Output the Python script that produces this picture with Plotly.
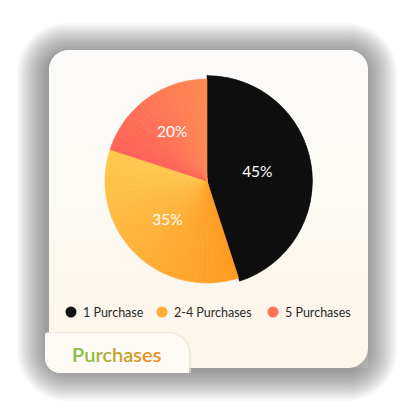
import plotly.graph_objects as go

# ---- data ----
categories = ["1 Purchase", "2-4 Purchases", "5 Purchases"]
shares = [45, 35, 20]
pct_labels = ["45%", "35%", "20%"]
title_text = "Purchases"

# ---- style ----
W = H = 418
FONT = "Lato"
slice_start_colors = ["#0E0E0E", "#FF9A22", "#FF6158"]   # colour at slice start angle
slice_end_colors = ["#0E0E0E", "#FFC94E", "#FF8A52"]     # colour at slice end angle
slice_radius = [1.035, 1.0, 1.0]
slice_subdiv = [1, 36, 24]
legend_colors = ["#111111", "#FFAE35", "#FF7257"]


def hex2rgb(h):
    h = h.lstrip("#")
    return tuple(int(h[i:i + 2], 16) for i in (0, 2, 4))


def mix(c0, c1, t):
    a, b = hex2rgb(c0), hex2rgb(c1)
    return "rgb(%d,%d,%d)" % tuple(round(a[i] + (b[i] - a[i]) * t) for i in range(3))


def P(x, y):
    return "%.5f,%.5f" % (x / W, 1 - y / H)


def rpath(x0, y0, x1, y1, tl=0, tr=0, br=0, bl=0):
    k = 0.5523
    s = "M" + P(x0 + tl, y0)
    s += " L" + P(x1 - tr, y0)
    if tr:
        s += " C" + P(x1 - tr + k * tr, y0) + " " + P(x1, y0 + tr - k * tr) + " " + P(x1, y0 + tr)
    s += " L" + P(x1, y1 - br)
    if br:
        s += " C" + P(x1, y1 - br + k * br) + " " + P(x1 - br + k * br, y1) + " " + P(x1 - br, y1)
    s += " L" + P(x0 + bl, y1)
    if bl:
        s += " C" + P(x0 + bl - k * bl, y1) + " " + P(x0, y1 - bl + k * bl) + " " + P(x0, y1 - bl)
    s += " L" + P(x0, y0 + tl)
    if tl:
        s += " C" + P(x0, y0 + tl - k * tl) + " " + P(x0 + tl - k * tl, y0) + " " + P(x0 + tl, y0)
    return s + " Z"


shapes = []
# card shadow (soft, layered)
cx0, cy0, cx1, cy1, cr = 49, 50, 368, 368, 20
d = 30.0
while d > 0:
    shapes.append(dict(type="path", xref="paper", yref="paper", layer="below",
                       path=rpath(cx0 - d - 2, cy0 - d + 3, cx1 + d - 1, cy1 + d + 3,
                                  cr + d, cr + d, cr + d, cr + d),
                       fillcolor="#303030", opacity=0.03, line=dict(width=0)))
    d -= 1.5
# card base
shapes.append(dict(type="path", xref="paper", yref="paper", layer="below",
                   path=rpath(cx0, cy0, cx1, cy1, cr, cr, cr, cr),
                   fillcolor="#FCF4E6", line=dict(width=0)))
# vertical white wash (gradient)
for k in range(1, 11):
    yb = cy0 + (cy1 - cy0) * k / 10.0
    shapes.append(dict(type="path", xref="paper", yref="paper", layer="below",
                       path=rpath(cx0, cy0, cx1, yb, cr, cr, 0, 0),
                       fillcolor="#FFFFFF", opacity=0.15, line=dict(width=0)))
# tab shadow + tab
tx0, ty0, tx1, ty1 = 45, 333, 189, 373
shapes.append(dict(type="path", xref="paper", yref="paper", layer="above",
                   path=rpath(tx0, ty0 - 1, tx1 + 2, ty1, 2, 22, 0, 16),
                   fillcolor="#E8E0D2", opacity=0.6, line=dict(width=0)))
shapes.append(dict(type="path", xref="paper", yref="paper", layer="above",
                   path=rpath(tx0, ty0, tx1, ty1, 2, 21, 0, 15),
                   fillcolor="#FEFBF6", line=dict(width=0)))

# legend markers
leg_x = [71, 162, 273]
leg_y = 312
for xc, col in zip(leg_x, legend_colors):
    shapes.append(dict(type="circle", xref="paper", yref="paper", layer="above",
                       x0=(xc - 5.5) / W, x1=(xc + 5.5) / W,
                       y0=1 - (leg_y + 5.5) / H, y1=1 - (leg_y - 5.5) / H,
                       fillcolor=col, line=dict(width=0)))

annotations = []
for xc, name in zip(leg_x, categories):
    annotations.append(dict(xref="paper", yref="paper", x=(xc + 10) / W, y=1 - leg_y / H,
                            xanchor="left", yanchor="middle", showarrow=False, text=name,
                            font=dict(family=FONT, size=12.5, color="#2A2A2A")))

# gradient title text
g0, g1 = "#86C046", "#F58A1C"
n = len(title_text)
spans = "".join('<span style="color:%s">%s</span>' % (mix(g0, g1, i / (n - 1)), ch)
                for i, ch in enumerate(title_text))
annotations.append(dict(xref="paper", yref="paper", x=70 / W, y=1 - 354 / H,
                        xanchor="left", yanchor="middle", showarrow=False, text=spans,
                        font=dict(family=FONT, size=20, weight=600)))

# ---- pie as barpolar wedges (sub-divided for gradient) ----
thetas, widths, rs, cols = [], [], [], []
start = 0.0
for i, s in enumerate(shares):
    span = s * 3.6
    nsub = slice_subdiv[i]
    step = span / nsub
    for j in range(nsub):
        thetas.append(start + step * (j + 0.5))
        widths.append(step)
        rs.append(slice_radius[i])
        cols.append(mix(slice_start_colors[i], slice_end_colors[i], (j + 0.5) / nsub))
    start += span

fig = go.Figure()
fig.add_trace(go.Barpolar(r=rs, theta=thetas, width=widths,
                          marker=dict(color=cols, line=dict(color=cols, width=0.6)),
                          hoverinfo="skip", showlegend=False))

# labels near mid-angles
mids, acc = [], 0.0
for s in shares:
    mids.append((acc + s / 2) * 3.6)
    acc += s
label_r = [0.5, 0.55, 0.58]
fig.add_trace(go.Scatterpolar(r=label_r, theta=mids, mode="text",
                              text=pct_labels,
                              textfont=dict(family=FONT, size=15.5, color="white"),
                              hoverinfo="skip", showlegend=False))

fig.update_layout(
    width=W, height=H, margin=dict(l=0, r=0, t=0, b=0),
    paper_bgcolor="white", plot_bgcolor="white",
    showlegend=False,
    shapes=shapes, annotations=annotations,
    polar=dict(
        domain=dict(x=[101 / W, 313 / W], y=[1 - 287 / H, 1 - 75 / H]),
        bgcolor="rgba(0,0,0,0)", bargap=0, hole=0,
        radialaxis=dict(range=[0, 1.04], visible=False),
        angularaxis=dict(rotation=90, direction="clockwise", visible=False),
    ),
)
fig.write_html("out.html")
